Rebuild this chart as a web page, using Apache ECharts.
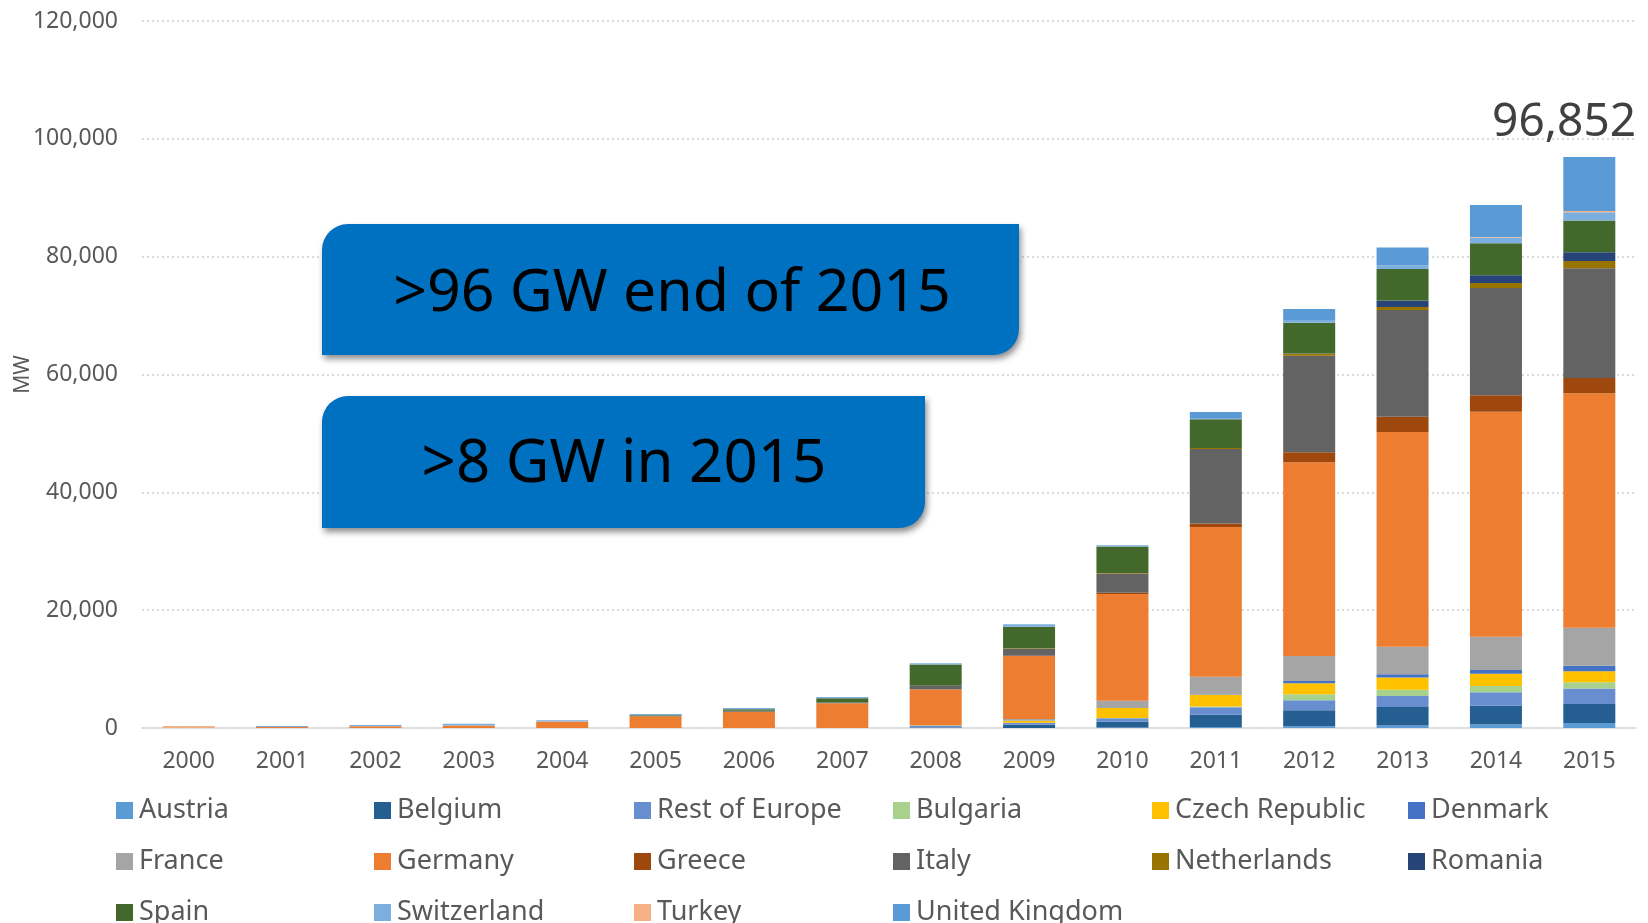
<!DOCTYPE html>
<html>
<head>
<meta charset="utf-8">
<script src="https://cdn.jsdelivr.net/npm/echarts@6/dist/echarts.min.js"></script>
<style>
html, body { margin: 0; padding: 0; background: #fff; }
#chart { width: 1648px; height: 923px; }
</style>
</head>
<body>
<div id="chart"></div>
<script>
// years on the x axis
var years = ['2000','2001','2002','2003','2004','2005','2006','2007','2008','2009','2010','2011','2012','2013','2014','2015'];
var yTicks = [0, 20000, 40000, 60000, 80000, 100000, 120000];

// cumulative installed PV, MW
var austria     = [0,0,0,0,0,0,0,0,0,0,100,190,300,430,640,850];
var belgium     = [0,0,0,0,0,0,0,0,70,550,1000,2073,2716,3145,3145,3217];
var restEurope  = [0,0,0,0,0,0,0,0,280,340,566,1250,1715,1858,2287,2645];
var bulgaria    = [0,0,0,0,0,0,0,0,0,0,20,150,1000,1072,1072,1072];
var czech       = [0,0,0,0,0,0,0,0,50,340,1700,1950,1858,2073,2073,1858];
var denmark     = [0,0,0,0,0,0,0,0,0,0,10,20,400,560,643,930];
var france      = [0,0,0,0,0,0,0,0,80,280,1245,3050,4217,4646,5647,6433];
var germany     = [100,176,290,430,1100,1980,2773,4200,6056,10700,18112,25450,32881,36455,38170,39815];
var greece      = [0,0,0,0,0,0,0,0,20,55,200,570,1715,2573,2788,2573];
var italy       = [0,0,0,0,0,0,150,120,620,1190,3283,12652,16369,18156,18227,18656];
var netherlands = [0,0,0,0,0,0,0,0,0,60,90,150,360,500,858,1215];
var romania     = [0,0,0,0,0,0,0,0,0,0,0,1,50,1072,1287,1500];
var spain       = [0,0,0,0,0,200,250,720,3600,3650,4470,4900,5218,5361,5432,5361];
var switzerland = [0,160,220,300,230,200,226,226,226,450,226,210,437,640,1000,1430];
var turkey      = [220,0,0,0,0,0,0,0,0,0,0,10,10,20,60,200];
var uk          = [0,0,0,0,0,0,0,0,0,0,0,1000,1858,3000,5432,9150];

var totalLabel = '96,852';

var countries = [
    {name:'Austria', data:austria, color:'#5B9BD5'},
    {name:'Belgium', data:belgium, color:'#255E91'},
    {name:'Rest of Europe', data:restEurope, color:'#698ED0'},
    {name:'Bulgaria', data:bulgaria, color:'#A9D18E'},
    {name:'Czech Republic', data:czech, color:'#FFC000'},
    {name:'Denmark', data:denmark, color:'#4472C4'},
    {name:'France', data:france, color:'#A5A5A5'},
    {name:'Germany', data:germany, color:'#ED7D31'},
    {name:'Greece', data:greece, color:'#9E480E'},
    {name:'Italy', data:italy, color:'#636363'},
    {name:'Netherlands', data:netherlands, color:'#997300'},
    {name:'Romania', data:romania, color:'#264478'},
    {name:'Spain', data:spain, color:'#43682B'},
    {name:'Switzerland', data:switzerland, color:'#7CAFDD'},
    {name:'Turkey', data:turkey, color:'#F4B183'},
    {name:'United Kingdom', data:uk, color:'#5B9BD5'}
];

var font = '"Noto Sans", "Open Sans", sans-serif';

var series = countries.map(function (c) {
    return {
        name: c.name,
        type: 'bar',
        stack: 'total',
        data: c.data,
        barWidth: 52,
        itemStyle: { color: c.color },
        emphasis: { disabled: true }
    };
});

// legend is laid out in 6 columns of up to 3 rows
var legendCols = [116, 374, 634, 893, 1152, 1408];
var legends = legendCols.map(function (left, col) {
    var names = [];
    for (var i = col; i < countries.length; i += 6) names.push(countries[i].name);
    return {
        orient: 'vertical',
        left: left,
        top: 797,
        height: 200,
        padding: 0,
        itemWidth: 17,
        itemHeight: 17,
        itemGap: 24,
        icon: 'rect',
        data: names,
        textStyle: { color: '#595959', fontSize: 27, fontFamily: font, lineHeight: 26, padding: [0, 0, 0, 1] }
    };
});

var chart = echarts.init(document.getElementById('chart'));
var option = {
    animation: false,
    backgroundColor: '#fff',
    grid: { left: 142, right: 12, top: 21, bottom: 195, outerBoundsMode: 'none' },
    legend: legends,
    xAxis: {
        type: 'category',
        data: years,
        axisLine: { lineStyle: { color: '#D9D9D9', width: 1.5 } },
        axisTick: { show: false },
        axisLabel: { color: '#595959', fontSize: 23, fontFamily: font, margin: 22 }
    },
    yAxis: {
        type: 'value',
        min: yTicks[0],
        max: yTicks[yTicks.length - 1],
        interval: yTicks[1] - yTicks[0],
        name: 'MW',
        nameLocation: 'middle',
        nameRotate: 90,
        nameGap: 108,
        nameMoveOverlap: false,
        nameTextStyle: { color: '#595959', fontSize: 21, fontFamily: font },
        axisLine: { show: false },
        axisTick: { show: false },
        axisLabel: {
            color: '#595959', fontSize: 23, fontFamily: font, margin: 24,
            formatter: function (v) { return v.toLocaleString('en-US'); }
        },
        splitLine: { lineStyle: { color: '#D0D0D0', type: [2, 3], width: 1.5 } }
    },
    series: series,
    graphic: [
        {
            type: 'rect',
            shape: { x: 322, y: 224, width: 697, height: 131, r: [26, 0, 26, 0] },
            style: { fill: '#0070C0', shadowBlur: 6, shadowOffsetX: 2, shadowOffsetY: 4, shadowColor: 'rgba(0,0,0,0.45)' },
            z: 100
        },
        {
            type: 'text',
            x: 672, y: 294,
            style: { text: '>96 GW end of 2015', fill: '#000', fontSize: 59, fontFamily: font, textAlign: 'center', textVerticalAlign: 'middle' },
            z: 101
        },
        {
            type: 'rect',
            shape: { x: 322, y: 396, width: 603, height: 132, r: [26, 0, 26, 0] },
            style: { fill: '#0070C0', shadowBlur: 6, shadowOffsetX: 2, shadowOffsetY: 4, shadowColor: 'rgba(0,0,0,0.45)' },
            z: 100
        },
        {
            type: 'text',
            x: 624, y: 465,
            style: { text: '>8 GW in 2015', fill: '#000', fontSize: 60, fontFamily: font, textAlign: 'center', textVerticalAlign: 'middle' },
            z: 101
        },
        {
            type: 'text',
            x: 1636, y: 123,
            style: { text: totalLabel, fill: '#404040', fontSize: 46, fontFamily: font, textAlign: 'right', textVerticalAlign: 'middle' },
            z: 101
        }
    ]
};
chart.setOption(option);
</script>
</body>
</html>
